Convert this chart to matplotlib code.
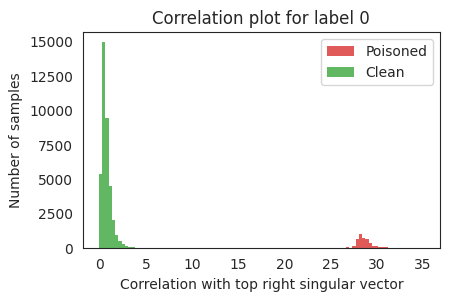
import numpy as np
import matplotlib
matplotlib.use("Agg")
import matplotlib.pyplot as plt
import seaborn as sns

# Histogram data (100 common bins)
bin_lo, bin_hi, n_bins = -0.12, 35.1, 100
clean_bins = list(range(13))
clean_counts = [5385, 14950, 9440, 4540, 2050, 965, 530, 310, 170, 90, 60, 40, 30]
poison_bins = [76, 78, 79, 80, 81, 82, 83, 84, 85, 86, 87, 88]
poison_counts = [95, 170, 675, 1040, 750, 675, 385, 170, 170, 95, 95, 95]

sns.set_style("white")
plt.rcParams['font.family'] = ['DejaVu Sans']

edges = np.linspace(bin_lo, bin_hi, n_bins + 1)
centers = (edges[:-1] + edges[1:]) / 2

fig = plt.figure(figsize=(4.49, 3.01), dpi=100)
ax = fig.add_axes([0.184, 0.175, 0.796, 0.718])

pw = np.zeros(n_bins)
pw[poison_bins] = poison_counts
cw = np.zeros(n_bins)
cw[clean_bins] = clean_counts

ax.hist(centers, bins=edges, weights=pw, color='#e05a5a', label='Poisoned', linewidth=0)
ax.hist(centers, bins=edges, weights=cw, color='#62b762', label='Clean', linewidth=0)

ax.set_title('Correlation plot for label 0', fontsize=12)
ax.set_xlabel('Correlation with top right singular vector', fontsize=10)
ax.set_ylabel('Number of samples', fontsize=10)
ax.set_xticks([0, 5, 10, 15, 20, 25, 30, 35])
ax.set_yticks([0, 2500, 5000, 7500, 10000, 12500, 15000])
ax.tick_params(labelsize=10)
ax.legend(loc='upper right', fontsize=10)

fig.savefig('out.png', dpi=100)
